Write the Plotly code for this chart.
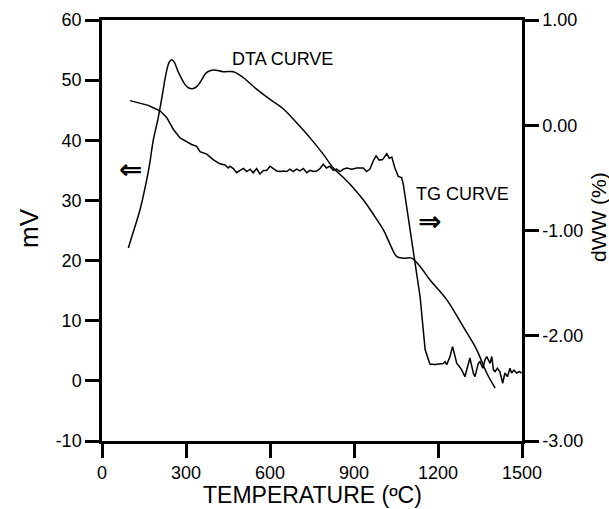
import plotly.graph_objects as go

# DTA curve (left axis, mV)
dta_temp = [94, 110, 136, 160, 171, 183, 201, 219, 225, 240, 249, 258, 273, 296, 310, 326, 340, 350,
            374, 398, 433, 469, 505, 552, 600, 648, 695, 743, 790, 826, 862, 886, 933, 969, 1005,
            1029, 1052, 1076, 1106, 1136, 1171, 1231, 1290, 1338, 1374, 1404]
dta_mv = [22.1, 24.5, 28.5, 33.5, 36.3, 40.0, 43.8, 48.5, 50.2, 53.0, 53.4, 53.0, 51.3, 49.3, 48.7, 48.6,
          49.0, 49.6, 51.3, 51.7, 51.4, 51.4, 50.4, 48.5, 46.8, 45.2, 42.9, 40.4, 37.7, 35.4, 33.8, 32.7,
          30.1, 27.7, 25.1, 22.7, 20.7, 20.4, 20.4, 19.0, 16.8, 13.5, 9.0, 5.2, 1.3, -1.2]

# TG curve (right axis, dW/W %)
tg_temp = [100, 136, 150, 165, 183, 207, 231, 255, 279, 302, 320, 338, 350, 374, 397, 421, 439, 451,
           457, 469, 481, 493, 505, 517, 529, 540, 552, 564, 576, 588, 600, 612, 624, 636, 648, 660,
           671, 683, 695, 707, 719, 731, 743, 755, 767, 779, 790, 802, 814, 826, 838, 850, 862, 874,
           892, 910, 933, 945, 957, 969, 979, 990, 1002, 1017, 1026, 1035, 1046, 1058, 1070, 1076,
           1100, 1136, 1154, 1166, 1171, 1189, 1207, 1219, 1225, 1231, 1243, 1252, 1261, 1267, 1276,
           1285, 1296, 1308, 1314, 1326, 1332, 1344, 1350, 1360, 1368, 1374, 1386, 1392, 1398, 1404,
           1412, 1421, 1431, 1439, 1448, 1457, 1463, 1471, 1481, 1491, 1499]
tg_pct = [0.234, 0.211, 0.200, 0.189, 0.166, 0.137, 0.074, -0.040, -0.120, -0.160, -0.183, -0.200,
          -0.251, -0.274, -0.326, -0.366, -0.377, -0.406, -0.389, -0.411, -0.451, -0.429, -0.411,
          -0.440, -0.417, -0.451, -0.411, -0.463, -0.429, -0.429, -0.389, -0.411, -0.434, -0.440,
          -0.434, -0.440, -0.417, -0.440, -0.417, -0.434, -0.411, -0.451, -0.429, -0.440, -0.434,
          -0.411, -0.371, -0.406, -0.389, -0.429, -0.417, -0.440, -0.417, -0.406, -0.417, -0.406,
          -0.406, -0.440, -0.417, -0.337, -0.291, -0.331, -0.326, -0.269, -0.314, -0.303, -0.406,
          -0.486, -0.497, -0.560, -0.994, -1.629, -2.131, -2.246, -2.269, -2.274, -2.269, -2.263,
          -2.246, -2.274, -2.197, -2.103, -2.197, -2.263, -2.291, -2.326, -2.389, -2.263, -2.211,
          -2.354, -2.389, -2.263, -2.246, -2.309, -2.229, -2.197, -2.263, -2.197, -2.326, -2.340,
          -2.309, -2.340, -2.451, -2.354, -2.389, -2.309, -2.354, -2.326, -2.354, -2.340, -2.354]

x_ticks = [0, 300, 600, 900, 1200, 1500]
left_ticks = [-10, 0, 10, 20, 30, 40, 50, 60]
left_labels = ["-10", "0", "10", "20", "30", "40", "50", "60"]
right_ticks = [-3, -2, -1, 0, 1]
right_labels = ["-3.00", "-2.00", "-1.00", "0.00", "1.00"]

FONT = "Liberation Sans, Arial, sans-serif"

fig = go.Figure()
fig.add_trace(go.Scatter(x=dta_temp, y=dta_mv, mode="lines", line=dict(color="black", width=1.5),
                         line_shape="spline", name="DTA", yaxis="y"))
fig.add_trace(go.Scatter(x=tg_temp, y=tg_pct, mode="lines", line=dict(color="black", width=1.5),
                         name="TG", yaxis="y2"))

axis_common = dict(showgrid=False, zeroline=False, showline=True, linecolor="black", linewidth=2.5,
                   ticks="outside", ticklen=14, tickwidth=2.5, tickcolor="black", automargin=False,
                   tickfont=dict(family=FONT, size=18, color="black"))

fig.update_layout(
    width=609, height=509,
    margin=dict(l=102, r=87, t=20, b=68),
    paper_bgcolor="white", plot_bgcolor="white",
    showlegend=False,
    xaxis=dict(range=[0, 1500], tickvals=x_ticks, mirror=True, **axis_common),
    yaxis=dict(range=[-10, 60], tickvals=left_ticks, ticktext=left_labels, **axis_common),
    yaxis2=dict(range=[-3, 1], tickvals=right_ticks, ticktext=right_labels, overlaying="y", side="right",
                **axis_common),
    annotations=[
        dict(x=0.5, y=-0.129, xref="paper", yref="paper", text="TEMPERATURE (ºC)", showarrow=False,
             xanchor="center", yanchor="middle",
             font=dict(family=FONT, size=23, color="black")),
        dict(x=-0.174, y=0.506, xref="paper", yref="paper", text="mV", showarrow=False, textangle=-90,
             xanchor="center", yanchor="middle",
             font=dict(family=FONT, size=26, color="black")),
        dict(x=1.181, y=0.532, xref="paper", yref="paper", text="dWW (%)", showarrow=False, textangle=-90,
             xanchor="center", yanchor="middle",
             font=dict(family=FONT, size=21, color="black")),
        dict(x=643, y=53.5, xref="x", yref="y", text="DTA CURVE", showarrow=False,
             xanchor="center", yanchor="middle",
             font=dict(family=FONT, size=18, color="black")),
        dict(x=1289, y=31, xref="x", yref="y", text="TG CURVE", showarrow=False,
             xanchor="center", yanchor="middle",
             font=dict(family=FONT, size=18, color="black")),
        dict(x=1171, y=26.5, xref="x", yref="y", text="<b>⇒</b>", showarrow=False,
             xanchor="center", yanchor="middle",
             font=dict(family="DejaVu Sans", size=28, color="black")),
        dict(x=100, y=35.2, xref="x", yref="y", text="<b>⇐</b>", showarrow=False,
             xanchor="center", yanchor="middle",
             font=dict(family="DejaVu Sans", size=28, color="black")),
    ],
)

fig.write_html("out.html")
